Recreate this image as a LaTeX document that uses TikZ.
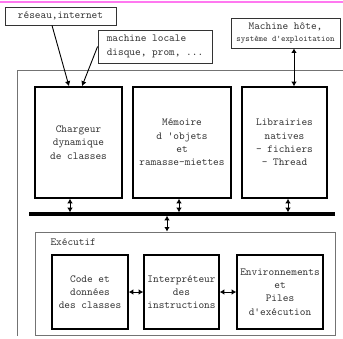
\documentclass[tikz,border=0pt]{standalone}
\usepackage{fontspec}
\usetikzlibrary{arrows.meta}
\tikzset{
  txt/.style={font=\ttfamily\fontsize{10.8}{13.3}\selectfont, text=black!80, align=center},
  note/.style={txt, draw=black!80, line width=0.8pt, inner sep=0pt},
  block/.style={txt, draw=black, line width=1.6pt, inner sep=0pt},
  frame/.style={draw=black!55, line width=0.9pt},
  bi/.style={line width=1pt, {Latex[length=4.5pt,width=5.5pt]}-{Latex[length=4.5pt,width=5.5pt]}},
  uni/.style={line width=0.9pt, -{Latex[length=5pt,width=5.5pt]}},
  bus/.style={line width=3.5pt}
}
\begin{document}
\begin{tikzpicture}[x=1pt, y=-1pt]
\useasboundingbox (0,0) rectangle (343,338);

% top rule
\draw[line width=1.2pt, draw={rgb,255:red,255;green,120;blue,240}] (0,2) -- (343,2);

% outer frame (open to the right and bottom)
\draw[frame] (17.5,336) -- (17.5,70) -- (343,70);

% external sources
\node[note, minimum width=111pt, minimum height=18pt] (reseau) at (60.5,16) {réseau,internet};
\node[note, minimum width=114pt, minimum height=33pt, align=left] (locale) at (155,46.5)
  {machine locale\\disque, prom, ...};
\node[note, minimum width=109pt, minimum height=30pt] (hote) at (285.5,33)
  {Machine hôte,\\[-2pt]{\fontsize{8.5}{9}\selectfont système d'exploitation}};

% main components
\node[block, minimum width=87pt, minimum height=111pt] (chargeur) at (78.5,142.5)
  {Chargeur\\dynamique\\de classes};
\node[block, minimum width=98pt, minimum height=111pt] (memoire) at (182,142.5)
  {Mémoire\\d 'objets\\et\\ramasse-miettes};
\node[block, minimum width=85pt, minimum height=111pt] (libr) at (284.5,142.5)
  {Librairies\\natives\\- fichiers\\- Thread};

% bus
\coordinate (busL) at (29,214);
\coordinate (busR) at (335,214);
\coordinate (tap) at (167,214);
\draw[bus] (busL) -- (busR);

% executive
\node[draw=black!55, line width=0.9pt, minimum width=300pt, minimum height=103pt] (exec) at (185,283.5) {};
\node[txt, anchor=west] (execlbl) at (47,242) {Exécutif};
\node[block, minimum width=76pt, minimum height=74pt] (code) at (90,292)
  {Code et\\données\\des classes};
\node[block, minimum width=75pt, minimum height=74pt] (interp) at (181.5,292)
  {Interpréteur\\des\\instructions};
\node[block, minimum width=86pt, minimum height=74pt] (env) at (280,292)
  {Environnements\\et\\Piles\\d'exécution};

% connectors
\draw[uni] ([xshift=-8.5pt]reseau.south) -- ([xshift=-9.5pt]chargeur.north);
\draw[uni] (locale.west) -- ([xshift=3.5pt]chargeur.north);
\draw[bi] ([xshift=8.5pt]hote.south) -- ([xshift=9.5pt]libr.north);

\draw[bi, shorten >=1.8pt] ([xshift=-8.5pt]chargeur.south) -- ([xshift=-8.5pt]chargeur.south |- busL);
\draw[bi, shorten >=1.8pt] ([xshift=-3pt]memoire.south) -- ([xshift=-3pt]memoire.south |- busL);
\draw[bi, shorten >=1.8pt] ([xshift=3.5pt]libr.south) -- ([xshift=3.5pt]libr.south |- busL);
\draw[bi, shorten <=1.8pt] (tap) -- (tap |- exec.north);

\draw[bi] (code.east) -- (interp.west);
\draw[bi] (interp.east) -- (env.west);
\end{tikzpicture}
\end{document}
